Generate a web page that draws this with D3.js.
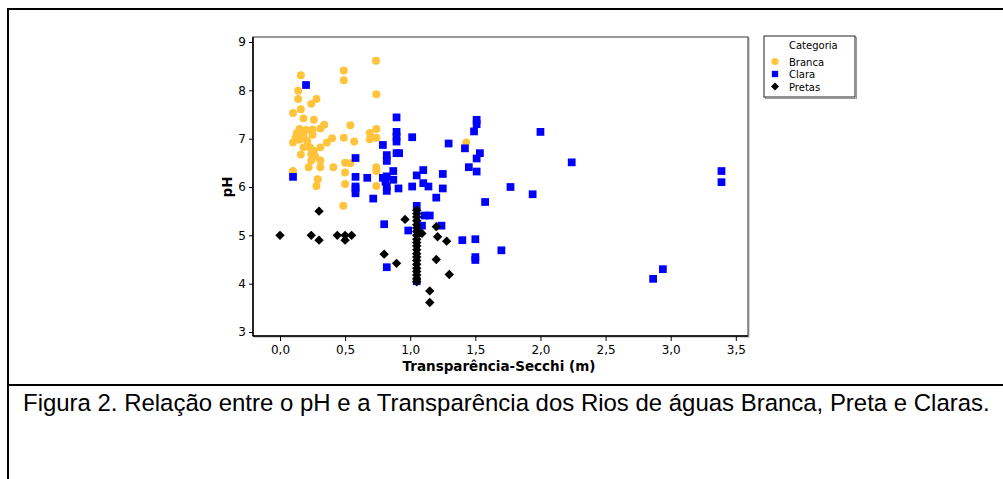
<!DOCTYPE html>
<html><head><meta charset="utf-8">
<script src="https://cdn.jsdelivr.net/npm/d3@7"></script>
<style>html,body{margin:0;padding:0;background:#fff;}svg{display:block;}</style>
</head><body>
<script>
// ---- data ----
const categories = ["Branca", "Clara", "Pretas"];
const branca = [[0.737,8.61],[0.49,8.41],[0.49,8.21],[0.16,8.31],[0.14,7.99],[0.14,7.82],[0.28,7.82],[0.24,7.72],[0.74,7.92],[0.16,7.61],[0.10,7.53],[0.18,7.42],[0.26,7.39],[0.34,7.29],[0.31,7.21],[0.54,7.28],[0.69,7.12],[0.74,7.20],[0.13,7.12],[0.15,7.20],[0.17,7.15],[0.14,7.05],[0.18,7.05],[0.20,7.18],[0.15,6.98],[0.12,7.02],[0.25,7.19],[0.25,7.08],[0.40,7.01],[0.49,7.02],[0.57,6.94],[0.69,6.99],[0.74,7.02],[0.10,6.92],[0.36,6.92],[0.18,6.82],[0.23,6.82],[0.31,6.82],[0.16,6.67],[0.24,6.69],[0.27,6.63],[0.24,6.55],[0.31,6.55],[0.22,6.41],[0.31,6.41],[0.41,6.41],[0.50,6.50],[0.54,6.49],[0.50,6.30],[0.10,6.33],[0.74,6.41],[0.74,6.33],[0.29,6.16],[0.28,6.02],[0.50,6.06],[0.74,6.02],[1.43,6.92],[0.486,5.61],[0.26,6.75],[0.21,6.95]];
const clara = [[0.20,8.11],[0.895,7.44],[1.51,7.39],[1.51,7.30],[1.49,7.15],[0.895,7.14],[0.895,7.04],[0.895,6.94],[1.015,7.03],[1.295,6.90],[0.79,6.87],[1.42,6.80],[0.82,6.66],[0.82,6.54],[0.895,6.70],[0.915,6.70],[1.535,6.70],[1.51,6.59],[0.58,6.60],[1.45,6.41],[1.51,6.32],[0.87,6.33],[1.10,6.35],[1.05,6.24],[1.25,6.27],[0.10,6.21],[0.58,6.21],[0.67,6.19],[0.79,6.19],[0.82,6.22],[0.81,6.11],[0.87,6.15],[0.58,6.01],[0.58,5.97],[0.58,5.87],[0.82,6.01],[0.82,5.92],[0.91,5.97],[1.015,6.01],[1.10,6.08],[1.14,6.01],[1.25,5.97],[0.716,5.76],[1.20,5.78],[1.575,5.69],[1.77,6.00],[1.94,5.85],[2.00,7.14],[2.24,6.51],[3.39,6.33],[3.39,6.10],[1.05,5.61],[1.11,5.41],[1.15,5.41],[0.80,5.23],[0.985,5.10],[1.09,5.20],[1.24,5.20],[1.40,4.90],[1.50,4.92],[1.70,4.69],[1.50,4.49],[1.50,4.55],[0.82,4.34],[2.94,4.30],[2.865,4.10],[1.05,4.05]];
const pretas = [[0.0,5.0],[0.24,5.0],[0.30,5.50],[0.30,4.90],[0.44,5.0],[0.50,5.0],[0.50,4.90],[0.55,5.0],[0.96,5.33],[0.80,4.61],[0.895,4.42],[1.20,5.18],[1.21,4.97],[1.28,4.88],[1.20,4.50],[1.30,4.19],[1.15,3.85],[1.15,3.61],[1.09,5.04],[1.07,5.05],
  [1.05,5.52],[1.05,5.45],[1.05,5.38],[1.05,5.30],[1.05,5.22],[1.05,5.15],[1.05,5.08],[1.05,5.00],[1.05,4.92],[1.05,4.85],[1.05,4.78],[1.05,4.70],[1.05,4.62],[1.05,4.55],[1.05,4.48],[1.05,4.40],[1.05,4.32],[1.05,4.25],[1.05,4.18],[1.05,4.10],[1.05,4.04]];
const xTicks = [0, 0.5, 1.0, 1.5, 2.0, 2.5, 3.0, 3.5];
const yTicks = [3, 4, 5, 6, 7, 8, 9];
const xTitle = "Transparência-Secchi (m)";
const yTitle = "pH";
const legendTitle = "Categoria";
const caption = "Figura 2. Relação entre o pH e a Transparência dos Rios de águas Branca, Preta e Claras.";

// ---- layout ----
const W = 1003, H = 479;
const svg = d3.select("body").append("svg").attr("width", W).attr("height", H);
const L = 253, R = 748, T = 37, B = 336;
const x = d3.scaleLinear().domain([-0.2072, 3.5936]).range([L, R]);
const y = d3.scaleLinear().domain([9.1034, 2.9172]).range([T, B]);

// figure borders
svg.append("line").attr("x1", 7).attr("x2", W).attr("y1", 9).attr("y2", 9).attr("stroke", "#000").attr("stroke-width", 2);
svg.append("line").attr("x1", 8).attr("x2", 8).attr("y1", 8).attr("y2", H).attr("stroke", "#000").attr("stroke-width", 2);
svg.append("line").attr("x1", 7).attr("x2", W).attr("y1", 385).attr("y2", 385).attr("stroke", "#000").attr("stroke-width", 2);

// plot frame with slight shadow
svg.append("rect").attr("x", L + 1).attr("y", T + 1).attr("width", R - L).attr("height", B - T).attr("fill", "none").attr("stroke", "#aaa");
svg.append("rect").attr("x", L).attr("y", T).attr("width", R - L).attr("height", B - T).attr("fill", "#fff").attr("stroke", "#333").attr("stroke-width", 1);
svg.append("line").attr("x1", L).attr("x2", R).attr("y1", B).attr("y2", B).attr("stroke", "#000").attr("stroke-width", 1.5);
svg.append("line").attr("x1", L).attr("x2", L).attr("y1", T).attr("y2", B).attr("stroke", "#000").attr("stroke-width", 1.5);

const fmtX = d => d.toFixed(1).replace(".", ",");
const xa = svg.append("g").attr("transform", `translate(0,${B})`)
  .call(d3.axisBottom(x).tickValues(xTicks).tickFormat(fmtX).tickSize(5).tickPadding(4));
const ya = svg.append("g").attr("transform", `translate(${L},0)`)
  .call(d3.axisLeft(y).tickValues(yTicks).tickFormat(d3.format("d")).tickSize(4).tickPadding(3));
[xa, ya].forEach(g => {
  g.select(".domain").remove();
  g.selectAll("line").attr("stroke", "#000");
  g.selectAll("text").attr("font-family", "DejaVu Sans, Verdana, sans-serif").attr("font-size", 12).attr("fill", "#000");
});

svg.append("text").attr("x", 499).attr("y", 371).attr("text-anchor", "middle")
  .attr("font-family", "DejaVu Sans, Verdana, sans-serif").attr("font-weight", "bold").attr("font-size", 13.5).text(xTitle);
svg.append("text").attr("transform", `translate(232,${y(6)}) rotate(-90)`).attr("text-anchor", "middle")
  .attr("font-family", "DejaVu Sans, Verdana, sans-serif").attr("font-weight", "bold").attr("font-size", 13.5).text(yTitle);

// symbols
const colors = {Branca: "#FFC33C", Clara: "#0000FF", Pretas: "#000000"};
const symType = {Branca: d3.symbolCircle, Clara: d3.symbolSquare, Pretas: d3.symbolSquare};
const symSize = {Branca: 50, Clara: 60, Pretas: 44};
const rot = {Branca: 0, Clara: 0, Pretas: 45};
const series = {Branca: branca, Clara: clara, Pretas: pretas};
const pg = svg.append("g");
categories.forEach(c => {
  pg.selectAll(null).data(series[c]).enter().append("path")
    .attr("d", d3.symbol().type(symType[c]).size(symSize[c])())
    .attr("transform", d => `translate(${x(d[0])},${y(d[1])}) rotate(${rot[c]})`)
    .attr("fill", colors[c]);
});

// legend
const lx = 764, ly = 36, lw = 91, lh = 61;
svg.append("rect").attr("x", lx + 1.5).attr("y", ly + 1.5).attr("width", lw).attr("height", lh).attr("fill", "none").attr("stroke", "#999").attr("stroke-width", 1);
svg.append("rect").attr("x", lx).attr("y", ly).attr("width", lw).attr("height", lh).attr("fill", "#fff").attr("stroke", "#222").attr("stroke-width", 1);
const lf = "DejaVu Sans, Verdana, sans-serif";
svg.append("text").attr("x", 789).attr("y", 49).attr("font-family", lf).attr("font-size", 10).text(legendTitle);
categories.forEach((c, i) => {
  const yy = 61.5 + i * 12.5;
  svg.append("path").attr("d", d3.symbol().type(symType[c]).size(c === "Pretas" ? 32 : 40)())
    .attr("transform", `translate(775,${yy}) rotate(${rot[c]})`).attr("fill", colors[c]);
  svg.append("text").attr("x", 789).attr("y", yy + 4).attr("font-family", lf).attr("font-size", 10).text(c);
});

// caption
const cap = svg.append("text").attr("x", 23).attr("y", 411).attr("font-family", "Liberation Sans, Arial, sans-serif").attr("font-size", 20).text(caption);
const len = cap.node().getComputedTextLength();
cap.attr("font-size", 20 * 967 / len);
</script>
</body></html>
